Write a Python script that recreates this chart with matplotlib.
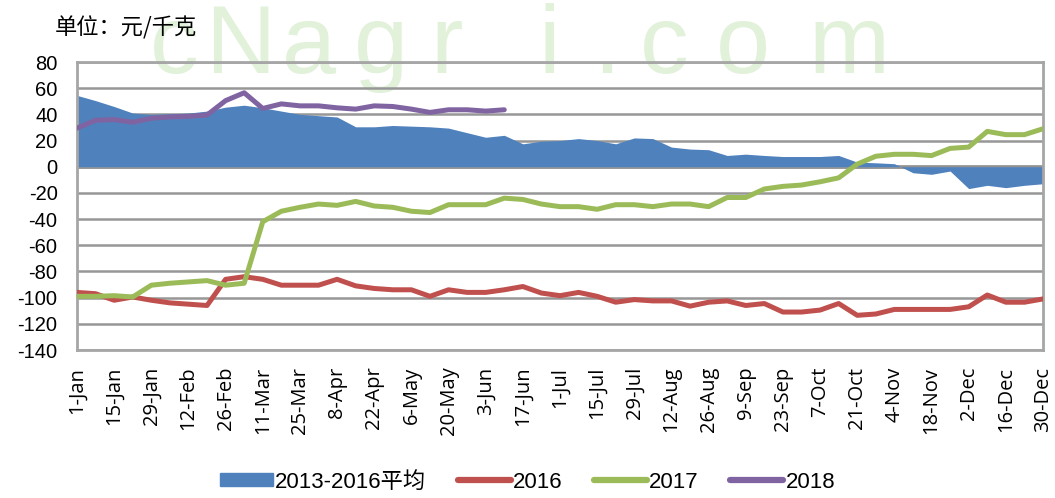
import matplotlib
matplotlib.use('Agg')
import matplotlib.pyplot as plt
from matplotlib.patches import Patch
from matplotlib.lines import Line2D
import numpy as np

# weekly data, 1-Jan .. 30-Dec (53 weeks)
avg_1316 = [54.5, 50.5, 46, 41, 40, 40.5, 41, 42.5, 45.5, 47, 45, 42.5, 40, 39, 38,
            30.5, 30.5, 31.5,
            31, 30.5, 29.5, 26, 22.5, 24, 17.5, 19.5, 20, 21.5, 20, 17.5, 22, 21.5, 15, 13.5, 13,
            8.6, 9.6, 8.6, 7.8, 7.8, 7.8, 8.6, 3.5, 3, 2.3, -4.6, -5.8, -3.3, -16.7, -14.2, -16,
            -14.2, -13]
y2016 = [-96, -97, -102, -99.5, -102, -104, -105, -106, -86, -84, -86, -90.5, -90.5, -90.5,
         -86, -91, -93, -94,
         -94, -99, -94, -96, -96, -94, -91.5, -96.5, -98.5, -96, -99, -103.5, -101.5, -102.5,
         -102.5, -106.5, -103.5,
         -102.5, -106, -104.5, -111, -111, -109.5, -104.5, -113.5, -112.5, -109, -109, -109,
         -109, -107, -98, -103.5, -103.5, -101]
y2017 = [-99, -99, -98.5, -99.5, -90.5, -89, -88, -87, -90.5, -89, -42, -34, -31, -28.5,
         -29.5, -26.5, -30, -31,
         -34, -35, -29, -29, -29, -24, -25, -28.5, -30.5, -30.5, -32.5, -29, -29, -30.5,
         -28.5, -28.5, -30.5,
         -23.5, -23.5, -17, -15, -14, -11.5, -8.5, 2, 8, 9.5, 9.5, 8.5, 14, 15, 27, 24.5,
         24.5, 29]
y2018 = [29.5, 35.5, 36, 34, 37, 38, 38.5, 39.5, 50.5, 56.5, 44.5, 48, 46.5, 46.5, 45, 44,
         46.5, 46, 44, 41.5, 43.5, 43.5, 42.5, 43.5]

tick_labels = ['1-Jan', '15-Jan', '29-Jan', '12-Feb', '26-Feb', '11-Mar', '25-Mar', '8-Apr',
               '22-Apr', '6-May', '20-May', '3-Jun', '17-Jun', '1-Jul', '15-Jul', '29-Jul',
               '12-Aug', '26-Aug', '9-Sep', '23-Sep', '7-Oct', '21-Oct', '4-Nov', '18-Nov',
               '2-Dec', '16-Dec', '30-Dec']
legend_labels = ['2013-2016平均', '2016', '2017', '2018']

c_avg = '#4F81BD'
c_16 = '#C0504D'
c_17 = '#9BBB59'
c_18 = '#8064A2'

plt.rcParams['font.family'] = ['Liberation Sans', 'Noto Sans CJK SC']

fig = plt.figure(figsize=(10.55, 4.98), dpi=100)
ax = fig.add_axes([77/1055, 1-350/498, (1043-77)/1055, (350-62)/498])
ax.patch.set_alpha(0)

# faint site watermark behind everything
wm_chars = ['c', 'N', 'a', 'g', 'r', 'i', '.', 'c', 'o', 'm']
wm_x = [150, 206, 282, 354, 430, 539, 593, 640, 716, 809]
for ch, px in zip(wm_chars, wm_x):
    fig.text(px/1055, 1-73/498, ch, fontsize=70, color='#e2f1da', ha='left',
             va='baseline', zorder=-5, family='Liberation Sans')

weeks = np.arange(len(avg_1316))
ax.fill_between(weeks, 0, avg_1316, color=c_avg, lw=0, zorder=2)
ax.plot(weeks, y2016, color=c_16, lw=3.6, zorder=3, solid_capstyle='round')
ax.plot(weeks, y2017, color=c_17, lw=3.6, zorder=3, solid_capstyle='round')
ax.plot(np.arange(len(y2018)), y2018, color=c_18, lw=3.6, zorder=4, solid_capstyle='round')

ax.set_xlim(0, 52)
ax.set_ylim(-140, 80)
ax.set_yticks(range(-140, 81, 20))
ax.set_yticklabels([str(v) for v in range(-140, 81, 20)], fontsize=14.5)
ax.set_xticks(range(0, 53, 2))
ax.set_xticklabels(tick_labels, rotation=90, fontsize=14.5, family='Open Sans')
ax.tick_params(length=0)
ax.tick_params(axis='y', pad=14)
ax.tick_params(axis='x', pad=12)

ax.grid(axis='y', color='#979797', lw=1.8, zorder=1)
ax.axhline(0, color='#8a8a8a', lw=2.6, zorder=1.5)
for s in ax.spines.values():
    s.set_color('#a6a6a6')
    s.set_linewidth(2)

fig.text(55/1055, 1-28/498, '单位：元/千克', fontsize=16, family='Noto Sans CJK SC',
         va='center', ha='left', zorder=5)

handles = [Patch(color=c_avg),
           Line2D([], [], color=c_16, lw=4.5, solid_capstyle='round'),
           Line2D([], [], color=c_17, lw=4.5, solid_capstyle='round'),
           Line2D([], [], color=c_18, lw=4.5, solid_capstyle='round')]
fig.legend(handles, legend_labels, loc='center', bbox_to_anchor=(0.5, 1-482/498), ncol=4,
           frameon=False, fontsize=16, handlelength=2.4, handletextpad=0.1,
           columnspacing=1.4, handleheight=0.55)

fig.savefig('out.png', dpi=100)
